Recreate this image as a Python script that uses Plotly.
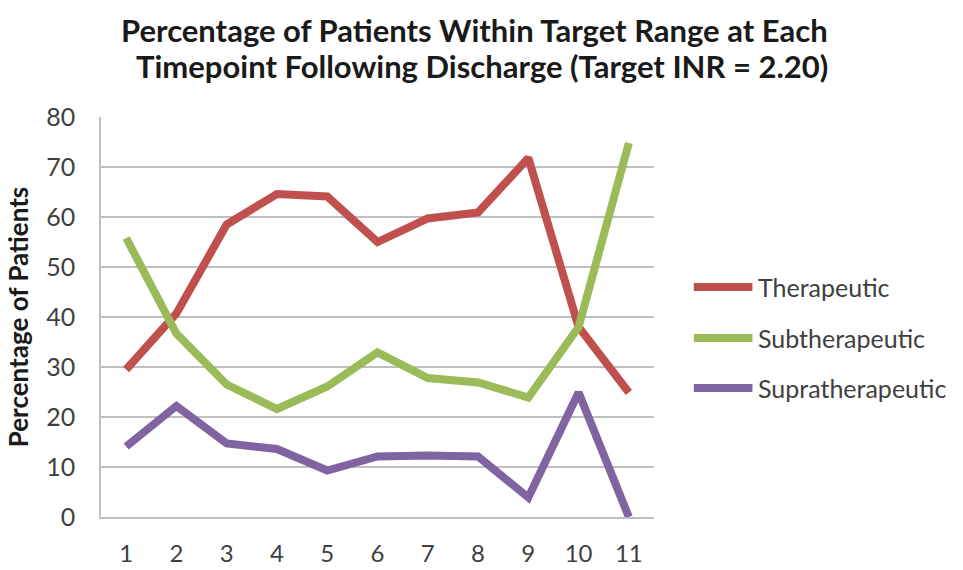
import plotly.graph_objects as go

# Timepoints following discharge
timepoints = ["1", "2", "3", "4", "5", "6", "7", "8", "9", "10", "11"]

# Percentage of patients in each INR category at each timepoint
therapeutic = [29.5, 40.7, 58.5, 64.6, 64.1, 55.0, 59.7, 60.9, 71.8, 38.0, 24.9]
subtherapeutic = [55.8, 36.7, 26.5, 21.6, 26.1, 32.9, 27.8, 26.9, 23.9, 38.0, 74.8]
supratherapeutic = [14.1, 22.2, 14.7, 13.6, 9.3, 12.1, 12.3, 12.1, 3.9, 24.9, 0.0]

series_names = ["Therapeutic", "Subtherapeutic", "Supratherapeutic"]
series_values = [therapeutic, subtherapeutic, supratherapeutic]
series_colors = ["#C0504D", "#9BBB59", "#8064A2"]

y_ticks = [0, 10, 20, 30, 40, 50, 60, 70, 80]

title_lines = [
    "Percentage of Patients Within Target Range at Each",
    "Timepoint Following Discharge (Target INR = 2.20)",
]

FONT = "Lato"
TEXT = "#404040"
DARK = "#1a1a1a"

fig = go.Figure()
for name, vals, col in zip(series_names, series_values, series_colors):
    fig.add_trace(go.Scatter(
        x=timepoints, y=vals, name=name, mode="lines",
        line=dict(color=col, width=8),
        showlegend=False,
    ))

# Legend: line samples with labels to the right of the plot
legend_y = [0.575, 0.4475, 0.3225]
for name, col, ly in zip(series_names, series_colors, legend_y):
    fig.add_shape(type="line", xref="paper", yref="paper",
                  x0=1.072, x1=1.178, y0=ly, y1=ly,
                  line=dict(color=col, width=8))
    fig.add_annotation(xref="paper", yref="paper", x=1.184, y=ly,
                       text=name, showarrow=False, xanchor="left", yanchor="middle",
                       font=dict(family=FONT, size=25, color=TEXT))

# Two-line bold title above the plot
for line, tx, ty in zip(title_lines, [0.676, 0.689], [1.2175, 1.1275]):
    fig.add_annotation(xref="paper", yref="paper", x=tx, y=ty,
                       text="<b>" + line + "</b>", showarrow=False,
                       xanchor="center", yanchor="middle",
                       font=dict(family=FONT, size=31, color=DARK))

fig.update_layout(
    width=963, height=570,
    margin=dict(l=101, r=309, t=117, b=53),
    paper_bgcolor="white", plot_bgcolor="white",
    xaxis=dict(
        type="category", range=[-0.5, 10.5], automargin=False,
        showgrid=False, showline=True, linecolor="#BFBFBF", linewidth=1.5,
        ticks="", tickfont=dict(family=FONT, size=24, color=TEXT),
        ticklabelstandoff=14,
    ),
    yaxis=dict(
        range=[0, 80], tickvals=y_ticks, automargin=False,
        showgrid=True, gridcolor="#BFBFBF", gridwidth=1.5,
        showline=True, linecolor="#BFBFBF", linewidth=1.5,
        zeroline=False, ticks="",
        tickfont=dict(family=FONT, size=25, color=TEXT),
        ticklabelstandoff=19,
        title=dict(text="<b>Percentage of Patients</b>",
                   font=dict(family=FONT, size=26, color=DARK), standoff=10),
    ),
)

fig.write_html("out.html")
